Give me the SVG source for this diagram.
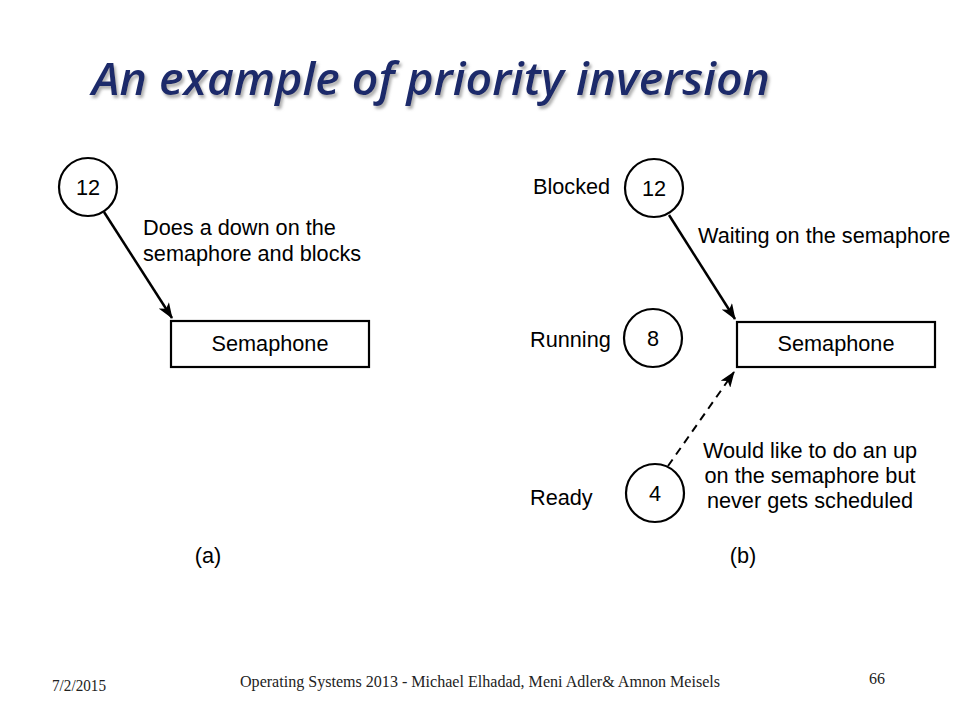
<svg xmlns="http://www.w3.org/2000/svg" width="960" height="720" viewBox="0 0 960 720">
  <defs>
    <marker id="arr" markerUnits="userSpaceOnUse" markerWidth="16" markerHeight="12" refX="15" refY="6" orient="auto">
      <path d="M0,0 L16,6 L0,12 L4,6 Z" fill="#000"/>
    </marker>
    <filter id="shadow" x="-5%" y="-20%" width="110%" height="150%">
      <feDropShadow dx="2" dy="3" stdDeviation="1.8" flood-color="#8a8a8a" flood-opacity="0.7"/>
    </filter>
  </defs>
  <style>
    .t { font-family: "Liberation Sans", Arial, sans-serif; font-size: 21.7px; fill: #000; }
    .m { text-anchor: middle; }
    .node { fill: #fff; stroke: #000; stroke-width: 2.2; }
    .edge { fill: none; stroke: #000; stroke-width: 2.5; }
    .dash { stroke-dasharray: 8 6; stroke-width: 2; }
    .foot { font-family: "Liberation Serif", "Times New Roman", serif; font-size: 16px; fill: #222; }
  </style>
  <rect width="960" height="720" fill="#fff"/>

  <text x="92" y="95" font-family="'Open Sans', 'Noto Sans', sans-serif" font-size="46" font-style="italic" font-weight="600" fill="#1b2a6b" textLength="678" lengthAdjust="spacingAndGlyphs" filter="url(#shadow)">An example of priority inversion</text>

  <g id="connectors">
    <line class="edge" x1="104" y1="212" x2="172" y2="318" marker-end="url(#arr)"/>
    <line class="edge" x1="669" y1="215" x2="735" y2="319" marker-end="url(#arr)"/>
    <line class="edge dash" x1="668" y1="466" x2="734" y2="372" marker-end="url(#arr)"/>
    <text class="t" x="143" y="235">Does a down on the</text>
    <text class="t" x="143" y="261">semaphore and blocks</text>
    <text class="t" x="698" y="243">Waiting on the semaphore</text>
    <text class="t m" x="810" y="458">Would like to do an up</text>
    <text class="t m" x="810" y="483">on the semaphore but</text>
    <text class="t m" x="810" y="508">never gets scheduled</text>
  </g>

  <g id="a-proc12">
    <circle class="node" cx="88" cy="187" r="29"/>
    <text class="t m" x="88" y="195">12</text>
  </g>
  <g id="a-sem">
    <rect class="node" x="171" y="321" width="198" height="46"/>
    <text class="t m" x="270" y="351">Semaphone</text>
  </g>
  <text id="label-a" class="t m" x="208" y="563">(a)</text>

  <g id="b-proc12">
    <text class="t" x="533" y="194">Blocked</text>
    <circle class="node" cx="654" cy="188" r="29"/>
    <text class="t m" x="654" y="196">12</text>
  </g>
  <g id="b-proc8">
    <text class="t" x="530" y="347">Running</text>
    <circle class="node" cx="653" cy="338" r="29"/>
    <text class="t m" x="653" y="346">8</text>
  </g>
  <g id="b-proc4">
    <text class="t" x="530" y="505">Ready</text>
    <circle class="node" cx="655" cy="493" r="29"/>
    <text class="t m" x="655" y="501">4</text>
  </g>
  <g id="b-sem">
    <rect class="node" x="737" y="322" width="198" height="45"/>
    <text class="t m" x="836" y="351">Semaphone</text>
  </g>
  <text id="label-b" class="t m" x="743" y="563">(b)</text>

  <text class="foot" x="52" y="691" textLength="54" lengthAdjust="spacingAndGlyphs">7/2/2015</text>
  <text class="foot" x="240" y="687" textLength="480" lengthAdjust="spacingAndGlyphs">Operating Systems 2013 - Michael Elhadad, Meni Adler&amp; Amnon Meisels</text>
  <text class="foot" x="869" y="684" font-size="17">66</text>
</svg>
